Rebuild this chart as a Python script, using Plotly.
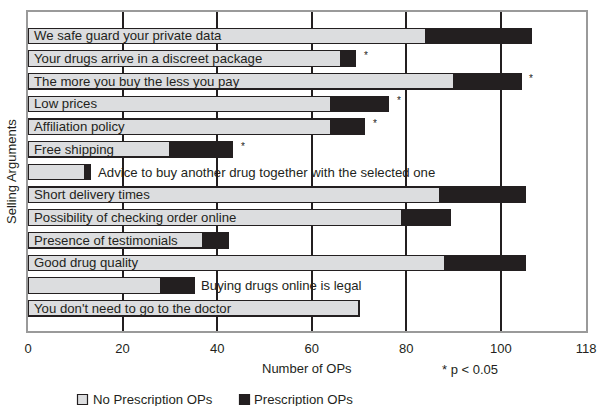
import plotly.graph_objects as go

categories = [
    "We safe guard your private data",
    "Your drugs arrive in a discreet package",
    "The more you buy the less you pay",
    "Low prices",
    "Affiliation policy",
    "Free shipping",
    "Advice to buy another drug together with the selected one",
    "Short delivery times",
    "Possibility of checking order online",
    "Presence of testimonials",
    "Good drug quality",
    "Buying drugs online is legal",
    "You don't need to go to the doctor",
]
no_prescription = [84, 66, 90, 64, 64, 30, 12, 87, 79, 37, 88, 28, 70]
prescription = [22.5, 3.3, 14.3, 12.3, 7.2, 13.3, 1.3, 18.2, 10.3, 5.3, 17.2, 7.2, 0]
significant = [False, True, True, True, True, True, False, False, False, False, False, False, False]
label_outside = [False, False, False, False, False, False, True, False, False, False, False, True, False]
x_ticks = [0, 20, 40, 60, 80, 100, 118]
series_names = ["No Prescription OPs", "Prescription OPs"]

DARK = "#231f20"
LIGHT = "#dcdddf"
FONT = "Liberation Sans, Arial, sans-serif"

W, H = 599, 406
ML, MR, MT, MB = 28, 13, 12, 75
PW, PH = W - ML - MR, H - MT - MB


def px_x(px):
    return (px - ML) / PW


def px_y(py):
    return (H - MB - py) / PH


ypos = list(range(len(categories)))

fig = go.Figure()
fig.add_trace(go.Bar(
    y=ypos, x=no_prescription, orientation="h", name=series_names[0],
    marker=dict(color=LIGHT, line=dict(color=DARK, width=1.2)), width=0.68,
    hoverinfo="skip",
))
fig.add_trace(go.Bar(
    y=ypos, x=prescription, orientation="h", name=series_names[1],
    marker=dict(color=DARK, line=dict(color=DARK, width=1.2)), width=0.68,
    hoverinfo="skip",
))

annotations = []
for i, cat in enumerate(categories):
    total = no_prescription[i] + prescription[i]
    if label_outside[i]:
        annotations.append(dict(x=total, y=i, xref="x", yref="y", text=cat,
                                showarrow=False, xanchor="left", yanchor="middle", xshift=5,
                                font=dict(size=13.2, color=DARK, family=FONT)))
    else:
        annotations.append(dict(x=0, y=i, xref="x", yref="y", text=cat,
                                showarrow=False, xanchor="left", yanchor="middle", xshift=4,
                                font=dict(size=13.2, color=DARK, family=FONT)))
    if significant[i]:
        annotations.append(dict(x=total, y=i, xref="x", yref="y", text="*",
                                showarrow=False, xanchor="left", yanchor="middle",
                                xshift=6, yshift=3,
                                font=dict(size=10, color=DARK, family=FONT)))

annotations += [
    dict(x=px_x(307), y=px_y(368), xref="paper", yref="paper", text="Number of OPs",
         xanchor="center", yanchor="middle",
         showarrow=False, font=dict(size=13, color=DARK, family=FONT)),
    dict(x=px_x(470), y=px_y(369), xref="paper", yref="paper", text="* p < 0.05",
         xanchor="center", yanchor="middle",
         showarrow=False, font=dict(size=13, color=DARK, family=FONT)),
    dict(x=px_x(12), y=px_y(172), xref="paper", yref="paper", text="Selling Arguments",
         xanchor="center", yanchor="middle",
         textangle=-90, showarrow=False, font=dict(size=13, color=DARK, family=FONT)),
    dict(x=px_x(91), y=px_y(399), xref="paper", yref="paper", text=series_names[0],
         xanchor="left", yanchor="middle",
         showarrow=False, font=dict(size=13.2, color=DARK, family=FONT)),
    dict(x=px_x(252), y=px_y(399), xref="paper", yref="paper", text=series_names[1],
         xanchor="left", yanchor="middle",
         showarrow=False, font=dict(size=13.2, color=DARK, family=FONT)),
]

shapes = [
    dict(type="rect", xref="paper", yref="paper", x0=px_x(77.5), x1=px_x(87.5),
         y0=px_y(404.5), y1=px_y(394.5), fillcolor=LIGHT, line=dict(color=DARK, width=1.2)),
    dict(type="rect", xref="paper", yref="paper", x0=px_x(239.5), x1=px_x(249.5),
         y0=px_y(404.5), y1=px_y(394.5), fillcolor=DARK, line=dict(color=DARK, width=1.2)),
]

fig.update_layout(
    width=W, height=H,
    margin=dict(l=ML, r=MR, t=MT, b=MB, autoexpand=False),
    barmode="stack",
    plot_bgcolor="white", paper_bgcolor="white",
    font=dict(family=FONT, color=DARK, size=13),
    showlegend=False,
    annotations=annotations,
    shapes=shapes,
    xaxis=dict(range=[0, 118], tickvals=x_ticks, showgrid=True, gridcolor=DARK,
               gridwidth=1.5, zeroline=False, showline=True, linecolor="#9a9a9a",
               linewidth=2, mirror=True, ticks="", automargin=False,
               ticklabelstandoff=4, tickfont=dict(size=13, color=DARK)),
    yaxis=dict(range=[13, -1.05], showticklabels=False, showgrid=False, zeroline=False,
               showline=True, linecolor="#9a9a9a", linewidth=2, mirror=True, ticks="",
               automargin=False),
)

fig.write_html("out.html", config={"displayModeBar": False},
               post_script="document.body.style.margin='0px';document.body.style.padding='0px';document.body.style.overflow='hidden';")
